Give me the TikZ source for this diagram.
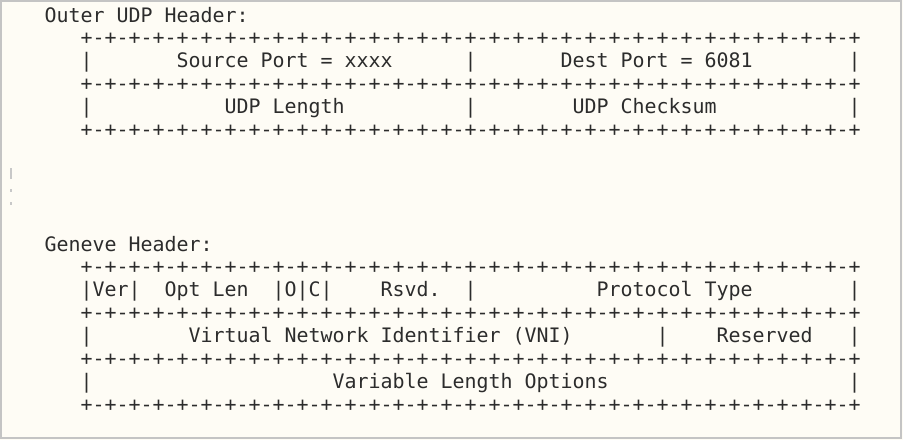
\documentclass[tikz,border=0pt]{standalone}
\usepackage{fontspec}
\newfontfamily\monof{DejaVu Sans Mono}
\definecolor{bgcream}{HTML}{FEFCF5}
\definecolor{framegray}{HTML}{C4C4C4}
\definecolor{inkgray}{HTML}{2C2C2C}
\definecolor{speck}{HTML}{C8C8C8}
\tikzset{
  mono/.style={inner sep=0pt, outer sep=0pt, anchor=base west, text=inkgray,
    font=\monof\fontsize{19.93}{22.9}\selectfont},
}
\newcommand\seg[4]{\node[mono] (#1) at ({80.7+12*(#2)}, {22+22.9*(#3)}) {#4};}
\newcommand\rulerow{+-+-+-+-+-+-+-+-+-+-+-+-+-+-+-+-+-+-+-+-+-+-+-+-+-+-+-+-+-+-+-+-+}
\begin{document}
\begin{tikzpicture}[x=1pt,y=-1pt]
\useasboundingbox (0,0) rectangle (903,440);
\fill[bgcream] (0,0) rectangle (903,440);
\draw[framegray, line width=2pt] (1,1) rectangle (901,438);
% faint specks at left edge
\fill[speck] (10,168) rectangle (12,179);
\fill[speck] (10,189) rectangle (12,192);
\fill[speck] (10,202) rectangle (12,205);
% Outer UDP header
\seg{lblA}{-3}{0}{Outer UDP Header:}
\seg{ra1}{0}{1}{\rulerow}
\seg{pa1}{0}{2}{|}
\seg{srcport}{8}{2}{Source Port = xxxx}
\seg{pa2}{32}{2}{|}
\seg{dstport}{40}{2}{Dest Port = 6081}
\seg{pa3}{64}{2}{|}
\seg{ra2}{0}{3}{\rulerow}
\seg{pb1}{0}{4}{|}
\seg{udplen}{12}{4}{UDP Length}
\seg{pb2}{32}{4}{|}
\seg{udpsum}{41}{4}{UDP Checksum}
\seg{pb3}{64}{4}{|}
\seg{ra3}{0}{5}{\rulerow}
% Geneve header
\seg{lblB}{-3}{10}{Geneve Header:}
\seg{rb1}{0}{11}{\rulerow}
\seg{ver}{0}{12}{|Ver|}
\seg{optlen}{7}{12}{Opt Len}
\seg{oc}{16}{12}{|O|C|}
\seg{rsvd}{25}{12}{Rsvd.}
\seg{pc1}{32}{12}{|}
\seg{proto}{43}{12}{Protocol Type}
\seg{pc2}{64}{12}{|}
\seg{rb2}{0}{13}{\rulerow}
\seg{pd1}{0}{14}{|}
\seg{vni}{9}{14}{Virtual Network Identifier (VNI)}
\seg{pd2}{48}{14}{|}
\seg{resv}{53}{14}{Reserved}
\seg{pd3}{64}{14}{|}
\seg{rb3}{0}{15}{\rulerow}
\seg{pe1}{0}{16}{|}
\seg{vlo}{21}{16}{Variable Length Options}
\seg{pe2}{64}{16}{|}
\seg{rb4}{0}{17}{\rulerow}
\end{tikzpicture}
\end{document}
